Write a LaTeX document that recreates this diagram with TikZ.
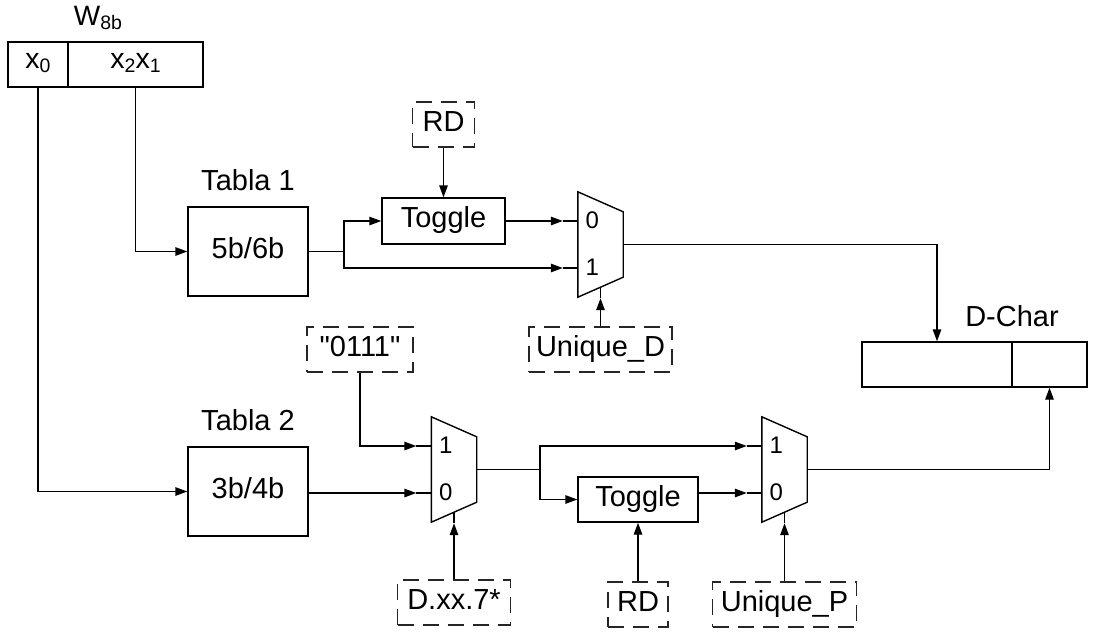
\documentclass[tikz,border=0pt]{standalone}
\usepackage{fontspec}
\setmainfont{Liberation Sans}[Ligatures=TeXOff]
\usetikzlibrary{arrows.meta,calc}

\tikzset{
  wire/.style={line width=1.4pt, draw=black},
  arr/.style={wire, -{Triangle[length=12pt,width=8.5pt]}},
  txt/.style={font=\fontsize{29}{33}\selectfont, text height=21pt, text depth=8pt, inner sep=0pt},
  blockbox/.style={txt, wire, rectangle, minimum width=120pt, minimum height=89pt},
  togglebox/.style={txt, wire, rectangle, minimum height=46pt},
  constbox/.style={txt, rectangle, draw=black!85, line width=1.4pt,
    dash pattern=on 16pt off 9pt, minimum height=45pt},
  cellbox/.style={wire, rectangle, inner sep=0pt, minimum height=45pt,
    font=\fontsize{28.5}{32}\selectfont, text height=9pt, text depth=2pt},
  portlbl/.style={font=\fontsize{24}{28}\selectfont, inner sep=0pt},
  muxbody/.style={rectangle, draw=none, inner sep=0pt, minimum width=45pt, minimum height=105pt},
}

% multiplexer: name, centre, upper input label, lower input label
\newcommand{\muxgate}[4]{%
  \node[muxbody] (#1) at (#2) {};
  \draw[wire, line join=miter] (#1.north west) -- ([yshift=-20pt]#1.north east)
    -- ([yshift=20pt]#1.south east) -- (#1.south west) -- cycle;
  \coordinate (#1-up) at ([yshift=23.5pt]#1.west);
  \coordinate (#1-lo) at ([yshift=-23.5pt]#1.west);
  \coordinate (#1-upin) at ([xshift=-15pt]#1-up);
  \coordinate (#1-loin) at ([xshift=-15pt]#1-lo);
  \coordinate (#1-selin) at ([yshift=-1pt]#1.south);
  \draw[wire] (#1-upin) -- (#1-up);
  \draw[wire] (#1-loin) -- (#1-lo);
  \draw[wire] ([yshift=10pt]#1.south) -- (#1-selin);
  \node[portlbl] at ([xshift=14.5pt,yshift=1pt]#1-up) {#3};
  \node[portlbl] at ([xshift=14.5pt,yshift=1pt]#1-lo) {#4};
}

\newcommand{\subtxt}[1]{\raisebox{-4pt}{\fontsize{19.5}{21}\selectfont #1}}

\begin{document}
\begin{tikzpicture}[x=1pt, y=-1pt]
  \useasboundingbox (0,0) rectangle (1107,641);

  % input word
  \node[font=\fontsize{28}{32}\selectfont, text height=7pt, text depth=1pt, inner sep=0pt]
    (wlbl) at (98,22.5) {W\subtxt{8b}};
  \node[cellbox, minimum width=60pt] (x0) at (38,64.5) {x\subtxt{0}};
  \node[cellbox, minimum width=135pt] (x21) at (135.5,64.5) {x\subtxt{2}x\subtxt{1}};

  % coding tables
  \node[blockbox] (tab1) at (248,251.5) {5b/6b};
  \node[txt] (tab1lbl) at (248,184) {Tabla 1};
  \node[blockbox] (tab2) at (248,491.5) {3b/4b};
  \node[txt] (tab2lbl) at (248,424) {Tabla 2};

  % toggles
  \node[togglebox, minimum width=123pt] (tg1) at (443.5,221) {Toggle};
  \node[togglebox, minimum width=120pt, minimum height=45pt] (tg2) at (638,499.5) {Toggle};

  % constant / control inputs
  \node[constbox, minimum width=62pt] (rd1) at (443.5,124.5) {RD};
  \node[constbox, minimum width=143pt] (ud) at (600.5,349.5) {Unique\_D};
  \node[constbox, minimum width=106pt] (c0111) at (360,349.5) {"0111"};
  \node[constbox, minimum width=113pt] (dxx) at (454,602.5) {D.xx.7*};
  \node[constbox, minimum width=60pt] (rd2) at (638,604.5) {RD};
  \node[constbox, minimum width=144pt] (up) at (784.5,604.5) {Unique\_P};

  % multiplexers
  \muxgate{m1}{600.5,244.5}{0}{1}
  \muxgate{m2}{454,469.5}{1}{0}
  \muxgate{m3}{784.5,469.5}{1}{0}

  % output character
  \node[wire, rectangle, minimum width=150pt, minimum height=45pt, inner sep=0pt] (dc1) at (937,364.5) {};
  \node[wire, rectangle, minimum width=75pt, minimum height=45pt, inner sep=0pt] (dc2) at (1049.5,364.5) {};
  \node[txt] (dclbl) at (1012,320) {D-Char};

  % branch points
  \coordinate (br1) at (344,251.5);
  \coordinate (br2) at (540,469.5);

  % connections
  \draw[arr] (x0.south) |- (tab2.west);
  \draw[arr] (x21.south) |- (tab1.west);

  \draw[wire] (tab1.east) -- (br1);
  \draw[arr] (br1) |- (tg1.west);
  \draw[arr] (br1) |- (m1-loin);
  \draw[arr] (tg1.east |- m1-upin) -- (m1-upin);
  \draw[arr] (rd1.south) -- (tg1.north);
  \draw[arr] (ud.north) -- (m1-selin);
  \draw[arr] (m1.east) -| (dc1.north);

  \draw[arr] (c0111.south) |- (m2-upin);
  \draw[arr] (tab2.east |- m2-loin) -- (m2-loin);
  \draw[arr] (dxx.north) -- (m2-selin);
  \draw[wire] (m2.east) -- (br2);
  \draw[arr] (br2) |- (m3-upin);
  \draw[arr] (br2) |- (tg2.west);
  \draw[arr] (tg2.east |- m3-loin) -- (m3-loin);
  \draw[arr] (rd2.north) -- (tg2.south);
  \draw[arr] (up.north) -- (m3-selin);
  \draw[arr] (m3.east) -| (dc2.south);
\end{tikzpicture}
\end{document}
